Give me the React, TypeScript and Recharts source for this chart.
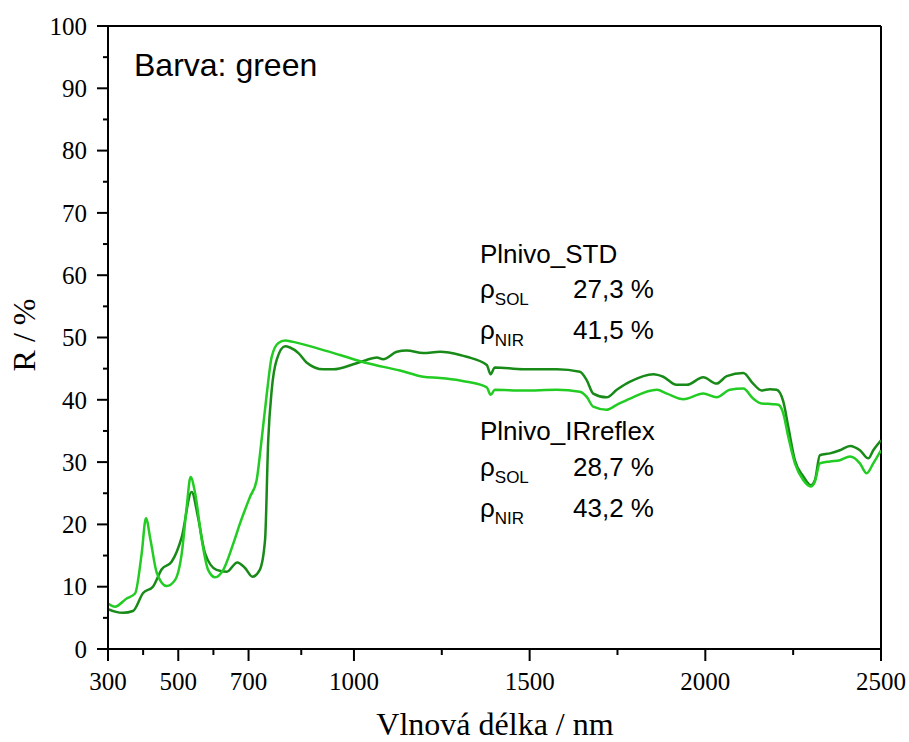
import { LineChart, Line, XAxis, YAxis, ReferenceLine } from "recharts";

// drop the default body margin so the chart fills the whole window
document.body.style.margin = "0";

// Plnivo_STD (dark green)
const stdWl = [300, 320, 343, 371, 400, 428, 453, 481, 510, 538, 556, 576, 609, 638, 668, 690, 711, 732, 747, 756, 766, 780, 804, 818, 842, 865, 913, 941, 998, 1036, 1065, 1083, 1122, 1150, 1197, 1245, 1302, 1321, 1378, 1389, 1401, 1482, 1577, 1643, 1662, 1681, 1719, 1748, 1786, 1852, 1880, 1918, 1947, 1994, 2032, 2061, 2108, 2136, 2160, 2184, 2203, 2222, 2236, 2255, 2279, 2300, 2312, 2326, 2355, 2383, 2412, 2440, 2464, 2478, 2500];
const stdR = [6.4, 6.0, 5.8, 6.1, 9.0, 10.0, 12.8, 14.0, 18.0, 25.2, 21.2, 15.4, 12.7, 12.4, 13.9, 13.0, 11.6, 12.7, 17.5, 33.5, 41.6, 46.4, 48.6, 48.4, 47.5, 46.0, 44.9, 44.9, 45.7, 46.4, 46.8, 46.5, 47.7, 47.9, 47.5, 47.7, 47.2, 46.9, 45.6, 44.1, 45.2, 44.9, 44.9, 44.5, 43.2, 41.0, 40.4, 41.6, 42.9, 44.1, 43.7, 42.4, 42.4, 43.6, 42.6, 43.8, 44.3, 42.6, 41.5, 41.7, 41.6, 39.7, 35.7, 30.3, 27.7, 26.3, 27.1, 31.1, 31.4, 31.9, 32.6, 31.9, 30.6, 31.9, 33.5];

// Plnivo_IRreflex (light green)
const irWl = [300, 320, 353, 377, 396, 408, 421, 439, 467, 491, 510, 524, 535, 548, 567, 585, 605, 628, 657, 676, 704, 723, 737, 752, 766, 785, 804, 827, 894, 960, 1036, 1131, 1197, 1245, 1302, 1321, 1378, 1389, 1401, 1482, 1577, 1643, 1662, 1681, 1719, 1748, 1786, 1862, 1891, 1938, 1994, 2032, 2070, 2108, 2136, 2160, 2193, 2208, 2222, 2236, 2255, 2279, 2300, 2312, 2326, 2355, 2383, 2412, 2440, 2459, 2478, 2500];
const irR = [7.3, 6.8, 8.1, 8.9, 15.4, 21.0, 17.5, 12.2, 10.1, 11.1, 15.4, 22.8, 27.6, 25.0, 17.5, 12.7, 11.5, 12.7, 17.0, 20.2, 24.4, 27.1, 33.5, 41.0, 46.9, 49.1, 49.5, 49.3, 48.3, 47.2, 45.9, 44.7, 43.7, 43.5, 43.1, 42.9, 42.0, 40.8, 41.6, 41.5, 41.6, 41.3, 40.5, 38.9, 38.4, 39.2, 40.2, 41.6, 41.0, 40.1, 41.0, 40.4, 41.6, 41.8, 40.2, 39.4, 39.3, 39.2, 37.8, 34.1, 29.8, 27.1, 26.1, 26.9, 29.8, 30.1, 30.3, 30.9, 29.8, 28.2, 29.8, 31.9];

const xTicks = [300, 400, 500, 600, 700, 850, 1000, 1250, 1500, 1750, 2000, 2250, 2500];
const xLabels = [300, 500, 700, 1000, 1500, 2000, 2500];
const yTicks = [0, 5, 10, 15, 20, 25, 30, 35, 40, 45, 50, 55, 60, 65, 70, 75, 80, 85, 90, 95, 100];

const stdData = stdWl.map((wl, i) => ({ wl, r: stdR[i] }));
const irData = irWl.map((wl, i) => ({ wl, r: irR[i] }));

const serif = "'Liberation Serif', 'Times New Roman', serif";
const sans = "'Liberation Sans', Arial, sans-serif";

const XTick = (props: any) => {
  const { x, y, payload } = props;
  const major = xLabels.includes(payload.value);
  return (
    <g>
      <line x1={x} x2={x} y1={y} y2={y + (major ? 12 : 6)} stroke="#000" strokeWidth={2} />
      {major && (
        <text x={x} y={y + 41} textAnchor="middle" fontFamily={serif} fontSize={25} fill="#000">
          {payload.value}
        </text>
      )}
    </g>
  );
};

const YTick = (props: any) => {
  const { x, y, payload } = props;
  const major = payload.value % 10 === 0;
  return (
    <g>
      <line x1={x - (major ? 11 : 5)} x2={x} y1={y} y2={y} stroke="#000" strokeWidth={2} />
      {major && (
        <text x={x - 21} y={y} dy="0.35em" textAnchor="end" fontFamily={serif} fontSize={25} fill="#000">
          {payload.value}
        </text>
      )}
    </g>
  );
};

const RhoRow = ({ y, sub, value }: { y: number; sub: string; value: string }) => (
  <>
    <text x={480} y={y} fontFamily={sans} fontSize={26} fill="#000">
      ρ<tspan fontSize={17} dy={7}>{sub}</tspan>
    </text>
    <text x={573} y={y} fontFamily={sans} fontSize={26} fill="#000">
      {value}
    </text>
  </>
);

export default function App() {
  return (
    <div style={{ position: "relative", width: 909, height: 742 }}>
      <LineChart width={909} height={742} margin={{ top: 26, right: 28, left: 0, bottom: 0 }}>
        <XAxis
          dataKey="wl"
          type="number"
          domain={[300, 2500]}
          ticks={xTicks}
          interval={0}
          tickSize={0}
          tickMargin={0}
          tickLine={false}
          tick={<XTick />}
          height={93}
          axisLine={{ stroke: "#000", strokeWidth: 2 }}
          allowDataOverflow
        />
        <YAxis
          type="number"
          domain={[0, 100]}
          ticks={yTicks}
          interval={0}
          tickSize={0}
          tickMargin={0}
          tickLine={false}
          tick={<YTick />}
          width={108}
          axisLine={{ stroke: "#000", strokeWidth: 2 }}
        />
        <ReferenceLine y={100} stroke="#000" strokeWidth={2} />
        <ReferenceLine x={2500} stroke="#000" strokeWidth={2} />
        <Line data={stdData} dataKey="r" type="monotone" stroke="#188a18" strokeWidth={2.5} dot={false} isAnimationActive={false} />
        <Line data={irData} dataKey="r" type="monotone" stroke="#22cc22" strokeWidth={2.5} dot={false} isAnimationActive={false} />
      </LineChart>
      <svg width={909} height={742} style={{ position: "absolute", left: 0, top: 0, pointerEvents: "none" }}>
        <text x={134} y={76} fontFamily={sans} fontSize={32} fill="#000">
          Barva: green
        </text>
        <text x={480} y={263} fontFamily={sans} fontSize={26} fill="#000">
          Plnivo_STD
        </text>
        <RhoRow y={298} sub="SOL" value="27,3 %" />
        <RhoRow y={339} sub="NIR" value="41,5 %" />
        <text x={480} y={440} fontFamily={sans} fontSize={26} fill="#000">
          Plnivo_IRreflex
        </text>
        <RhoRow y={476} sub="SOL" value="28,7 %" />
        <RhoRow y={517} sub="NIR" value="43,2 %" />
        <text x={495} y={735} textAnchor="middle" fontFamily={serif} fontSize={32} fill="#000">
          Vlnová délka / nm
        </text>
        <text
          x={35}
          y={335}
          textAnchor="middle"
          fontFamily={serif}
          fontSize={32}
          fill="#000"
          transform="rotate(-90 35 335)"
        >
          R / %
        </text>
      </svg>
    </div>
  );
}
